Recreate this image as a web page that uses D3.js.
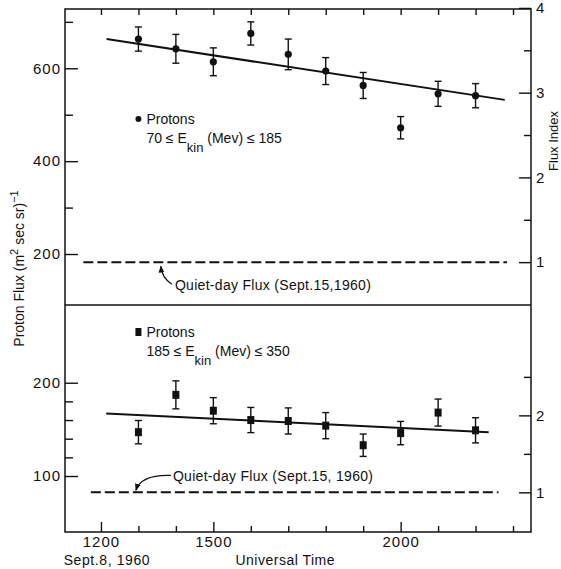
<!DOCTYPE html>
<html>
<head>
<meta charset="utf-8">
<script src="https://cdn.jsdelivr.net/npm/d3@7"></script>
<style>
  html, body { margin: 0; padding: 0; background: #fff; }
  svg text { font-family: "Liberation Sans", Arial, sans-serif; fill: #111; }
</style>
</head>
<body>
<svg id="chart" width="561" height="569"></svg>
<script>
// Universal Time (hours, Sept. 8, 1960) of each measurement
const hours = [13, 14, 15, 16, 17, 18, 19, 20, 21, 22];

// Protons 70 <= E_kin <= 185 MeV
const fluxLow = [663, 642, 614, 675, 630, 594, 563, 472, 545, 541];
const errLow  = [26, 31, 30, 25, 33, 29, 28, 24, 27, 26];

// Protons 185 <= E_kin <= 350 MeV
const fluxHigh = [147, 187, 170, 160, 159, 154, 133, 146, 168, 149];
const errHigh  = [12.5, 15, 14, 13.5, 14, 14, 12, 12.5, 14.5, 13.5];

// Fitted trend lines (hour, flux)
const fitLowHours = [12.15, 22.78];
const fitLowFlux  = [663, 532];
const fitHighHours = [12.14, 22.35];
const fitHighFlux  = [167, 147];

// Quiet-day flux (Sept. 15, 1960) and the span of its reference line
const quietLow = 182.5;
const quietHigh = 82.5;
const quietLowHours = [11.53, 22.84];
const quietHighHours = [11.73, 22.61];

// Axis ticks
const timeTicks = [12, 13, 14, 15, 16, 17, 18, 19, 20, 21, 22, 23];
const timeLabels = {12: "1200", 15: "1500", 20: "2000"};
const fluxLowMajor = [200, 400, 600];
const fluxLowMinor = [300, 500, 700];
const fluxHighMajor = [100, 200];
const fluxHighMinor = [120, 140, 160, 180];
const indexLowMajor = [1, 2, 3, 4];
const indexLowMinor = [1.5, 2.5, 3.5];
const indexHighMajor = [1, 2];
const indexHighMinor = [1.5, 2.5];

const L = 65, R = 531, T = 9, MID = 305, B = 532;

const svg = d3.select("#chart");

const x = d3.scaleLinear().domain([11.04, 23.48]).range([L, R]);
const yTop = d3.scaleLinear().domain([90.2, 727.7]).range([MID, T]);
const yBot = d3.scaleLinear().domain([40, 283.3]).range([B, MID]);
// Flux index = flux / quiet-day flux
const iTop = d3.scaleLinear().domain(yTop.domain().map(v => v / quietLow)).range(yTop.range());
const iBot = d3.scaleLinear().domain(yBot.domain().map(v => v / quietHigh)).range(yBot.range());

const ink = "#111";

function styleAxis(g, fontSize) {
  g.select(".domain").remove();
  g.selectAll(".tick line").attr("stroke", ink).attr("stroke-width", 1.4);
  g.selectAll(".tick text")
    .attr("font-size", fontSize)
    .attr("letter-spacing", 1)
    .attr("fill", ink)
    .style("font-family", '"Liberation Sans", Arial, sans-serif');
}

// Left flux axes
svg.append("g").attr("transform", `translate(${L},0)`)
  .call(d3.axisLeft(yTop).tickValues(fluxLowMajor).tickSize(-13).tickPadding(4))
  .call(g => styleAxis(g, 15));
svg.append("g").attr("transform", `translate(${L},0)`)
  .call(d3.axisLeft(yTop).tickValues(fluxLowMinor).tickSize(-8).tickFormat(""))
  .call(g => styleAxis(g, 15));
svg.append("g").attr("transform", `translate(${L},0)`)
  .call(d3.axisLeft(yBot).tickValues(fluxHighMajor).tickSize(-13).tickPadding(4))
  .call(g => styleAxis(g, 15));
svg.append("g").attr("transform", `translate(${L},0)`)
  .call(d3.axisLeft(yBot).tickValues(fluxHighMinor).tickSize(-8).tickFormat(""))
  .call(g => styleAxis(g, 15));

// Right flux-index axes
svg.append("g").attr("transform", `translate(${R},0)`)
  .call(d3.axisRight(iTop).tickValues(indexLowMajor).tickSize(-12).tickPadding(5).tickFormat(d3.format("d")))
  .call(g => styleAxis(g, 15));
svg.append("g").attr("transform", `translate(${R},0)`)
  .call(d3.axisRight(iTop).tickValues(indexLowMinor).tickSize(-7).tickFormat(""))
  .call(g => styleAxis(g, 15));
svg.append("g").attr("transform", `translate(${R},0)`)
  .call(d3.axisRight(iBot).tickValues(indexHighMajor).tickSize(-12).tickPadding(5).tickFormat(d3.format("d")))
  .call(g => styleAxis(g, 15));
svg.append("g").attr("transform", `translate(${R},0)`)
  .call(d3.axisRight(iBot).tickValues(indexHighMinor).tickSize(-7).tickFormat(""))
  .call(g => styleAxis(g, 15));

// Time axes: bottom (labelled) and top (ticks only)
const majorTimes = timeTicks.filter(h => timeLabels[h]);
const minorTimes = timeTicks.filter(h => !timeLabels[h]);
svg.append("g").attr("transform", `translate(0,${B})`)
  .call(d3.axisBottom(x).tickValues(majorTimes).tickSize(-10).tickPadding(4).tickFormat(h => timeLabels[h]))
  .call(g => styleAxis(g, 15));
svg.append("g").attr("transform", `translate(0,${B})`)
  .call(d3.axisBottom(x).tickValues(minorTimes).tickSize(-6).tickFormat(""))
  .call(g => styleAxis(g, 15));
svg.append("g").attr("transform", `translate(0,${T})`)
  .call(d3.axisTop(x).tickValues(timeTicks).tickSize(-6).tickFormat(""))
  .call(g => styleAxis(g, 15));

// Frame and panel divider
svg.append("rect").attr("x", L).attr("y", T).attr("width", R - L).attr("height", B - T)
  .attr("fill", "none").attr("stroke", ink).attr("stroke-width", 1.5);
svg.append("line").attr("x1", L).attr("x2", R).attr("y1", MID).attr("y2", MID)
  .attr("stroke", ink).attr("stroke-width", 1.5);

// Axis titles
svg.append("text").attr("x", x(12) + 6).attr("y", 565).attr("text-anchor", "middle")
  .attr("font-size", 14).attr("letter-spacing", 0.6).text("Sept.8, 1960");
svg.append("text").attr("x", x(17) - 3).attr("y", 565).attr("text-anchor", "middle")
  .attr("font-size", 14).attr("letter-spacing", 0.5).text("Universal Time");

const yTitle = svg.append("text")
  .attr("transform", `translate(24,${(T + B) / 2 - 2}) rotate(-90)`)
  .attr("text-anchor", "middle").attr("font-size", 14);
yTitle.append("tspan").text("Proton Flux (m");
yTitle.append("tspan").attr("dy", -6).attr("font-size", 11).text("2");
yTitle.append("tspan").attr("dy", 6).text(" sec sr)");
yTitle.append("tspan").attr("dy", -6).attr("font-size", 11).text("−1");

svg.append("text")
  .attr("transform", `translate(558,${iTop(2.43)}) rotate(-90)`)
  .attr("text-anchor", "middle").attr("font-size", 13).text("Flux Index");

// Quiet-day reference lines
function quietLine(yScale, q, span) {
  svg.append("line")
    .attr("x1", x(span[0])).attr("x2", x(span[1]))
    .attr("y1", yScale(q)).attr("y2", yScale(q))
    .attr("stroke", ink).attr("stroke-width", 2).attr("stroke-dasharray", "10,4");
}
quietLine(yTop, quietLow, quietLowHours);
quietLine(yBot, quietHigh, quietHighHours);

// Fit lines
const fitLine = (yScale) => d3.line().x(d => x(d[0])).y(d => yScale(d[1]));
svg.append("path").datum(d3.zip(fitLowHours, fitLowFlux))
  .attr("d", fitLine(yTop)).attr("fill", "none").attr("stroke", ink).attr("stroke-width", 2);
svg.append("path").datum(d3.zip(fitHighHours, fitHighFlux))
  .attr("d", fitLine(yBot)).attr("fill", "none").attr("stroke", ink).attr("stroke-width", 2);

// Error bars
function errorBars(yScale, vals, errs) {
  const g = svg.append("g").attr("stroke", ink).attr("stroke-width", 1.4);
  hours.forEach((h, i) => {
    const cx = x(h), y0 = yScale(vals[i] - errs[i]), y1 = yScale(vals[i] + errs[i]);
    g.append("line").attr("x1", cx).attr("x2", cx).attr("y1", y0).attr("y2", y1);
    g.append("line").attr("x1", cx - 3.5).attr("x2", cx + 3.5).attr("y1", y0).attr("y2", y0);
    g.append("line").attr("x1", cx - 3.5).attr("x2", cx + 3.5).attr("y1", y1).attr("y2", y1);
  });
}
errorBars(yTop, fluxLow, errLow);
errorBars(yBot, fluxHigh, errHigh);

svg.append("g").selectAll("circle").data(fluxLow).join("circle")
  .attr("cx", (d, i) => x(hours[i])).attr("cy", d => yTop(d)).attr("r", 3.6).attr("fill", ink);
svg.append("g").selectAll("rect").data(fluxHigh).join("rect")
  .attr("x", (d, i) => x(hours[i]) - 3.5).attr("y", d => yBot(d) - 4)
  .attr("width", 7).attr("height", 8).attr("fill", ink);

// Legends
function legend(yTopLine, symbol, lo, hi) {
  const lx = x(13) + 8;
  if (symbol === "dot") {
    svg.append("circle").attr("cx", x(13)).attr("cy", yTopLine - 5).attr("r", 3).attr("fill", ink);
  } else {
    svg.append("rect").attr("x", x(13) - 3).attr("y", yTopLine - 9).attr("width", 6).attr("height", 8).attr("fill", ink);
  }
  svg.append("text").attr("x", lx).attr("y", yTopLine).attr("font-size", 14).text("Protons");
  const t = svg.append("text").attr("x", lx).attr("y", yTopLine + 19).attr("font-size", 14);
  t.append("tspan").text(lo + " ≤ E");
  t.append("tspan").attr("dy", 9).attr("font-size", 13).text("kin");
  t.append("tspan").attr("dy", -9).text(" (Mev) ≤ " + hi);
}
legend(124, "dot", 70, 185);
legend(337, "square", 185, 350);

// Quiet-day annotations with arrows
svg.append("defs").append("marker")
  .attr("id", "head").attr("viewBox", "0 0 10 10").attr("refX", 9).attr("refY", 5)
  .attr("markerWidth", 6).attr("markerHeight", 6).attr("orient", "auto")
  .append("path").attr("d", "M0,1 L10,5 L0,9 Z").attr("fill", ink);

const qTopY = yTop(quietLow), qTopX = x(14) - 1;
svg.append("text").attr("x", qTopX).attr("y", qTopY + 28).attr("font-size", 14)
  .attr("letter-spacing", 0.3).text("Quiet-day Flux (Sept.15,1960)");
svg.append("path")
  .attr("d", `M${qTopX - 3},${qTopY + 22} Q${qTopX - 13},${qTopY + 16} ${qTopX - 14},${qTopY + 4}`)
  .attr("fill", "none").attr("stroke", ink).attr("stroke-width", 1.2).attr("marker-end", "url(#head)");

const qBotY = yBot(quietHigh), qBotX = x(14) - 3;
svg.append("text").attr("x", qBotX).attr("y", qBotY - 11).attr("font-size", 14)
  .attr("letter-spacing", 0.3).text("Quiet-day Flux (Sept.15, 1960)");
svg.append("path")
  .attr("d", `M${qBotX - 2},${qBotY - 17} Q${qBotX - 32},${qBotY - 18} ${qBotX - 37},${qBotY - 2}`)
  .attr("fill", "none").attr("stroke", ink).attr("stroke-width", 1.2).attr("marker-end", "url(#head)");
</script>
</body>
</html>
